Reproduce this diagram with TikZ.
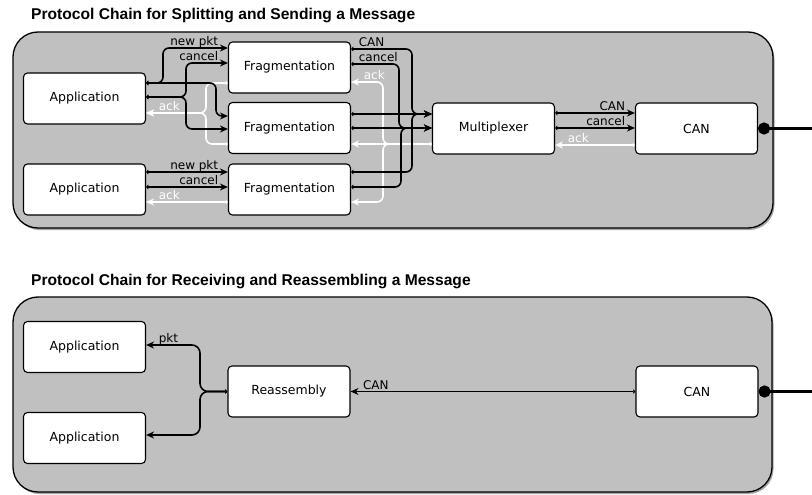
\documentclass[tikz,border=0pt]{standalone}
\usepackage{fontspec}
\setmainfont{DejaVu Sans}
\newfontfamily\headfont{Liberation Sans}
\usetikzlibrary{arrows.meta,shadows}

\begin{document}
\begin{tikzpicture}[x=1pt,y=-1pt,
  panel/.style={draw=black,line width=1.3pt,fill={rgb,255:red,192;green,192;blue,192},rounded corners=25pt,
    drop shadow={shadow xshift=1.5pt,shadow yshift=-2pt,opacity=0.7}},
  block/.style={draw=black,line width=1.1pt,fill=white,rounded corners=4pt,minimum width=122pt,minimum height=51pt,font=\fontsize{12.5}{14}\selectfont},
  head/.style={anchor=base west,inner sep=0pt,font=\headfont\bfseries\fontsize{15.6}{18}\selectfont},
  conn/.style={line width=1.6pt,rounded corners=6pt,{Triangle[length=2.2pt,width=4.5pt]}-{Stealth[length=8pt,width=7pt]}},
  ack/.style={conn,draw=white},
  lbl/.style={inner sep=0pt,font=\fontsize{12}{14}\selectfont},
  inlbl/.style={lbl,anchor=base east,xshift=-9pt,yshift=2.5pt},
  outlbl/.style={lbl,anchor=base west,xshift=7pt,yshift=2.5pt},
  acklbl/.style={lbl,anchor=base west,text=white,xshift=12pt,yshift=2.5pt},
  bus/.style={line width=3.5pt,{Circle[length=12pt]}-}]
\useasboundingbox (0,0) rectangle (812,495);

% sending chain
\node[head] (title1) at (31,20) {Protocol Chain for Splitting and Sending a Message};
\draw[panel] (13,32) rectangle (773,228);
\node[block] (app1) at (84.5,98.5) {Application};
\node[block] (app2) at (84.5,189.5) {Application};
\node[block] (frag1) at (289.5,67.5) {Fragmentation};
\node[block] (frag2) at (289.5,128) {Fragmentation};
\node[block] (frag3) at (289.5,189.5) {Fragmentation};
\node[block] (mux) at (493.5,128.5) {Multiplexer};
\node[block] (can1) at (696.5,128.5) {CAN};
\coordinate (out1) at (812,128.5);

% acks back (white)
\draw[ack] (frag1.west |- 0,83) -- (206,83) -- (206,113) -- (app1.east |- 0,113) node[acklbl] {ack};
\draw[ack] (frag2.west |- 0,144) -- (206,144) -- (206,113) -- (app1.east |- 0,113);
\draw[ack] (frag3.west |- 0,202) -- (app2.east |- 0,202) node[acklbl] {ack};
\draw[ack] (mux.west |- 0,144) -- (383,144) -- (383,82) -- (frag1.east |- 0,82) node[acklbl] {ack};
\draw[ack] (mux.west |- 0,144) -- (frag2.east |- 0,144);
\draw[ack] (mux.west |- 0,144) -- (383,144) -- (383,202) -- (frag3.east |- 0,202);
\draw[ack] (can1.west |- 0,145) -- (mux.east |- 0,145) node[acklbl] {ack};

% applications to fragmentation
\draw[conn] (app1.east |- 0,83) -- (163,83) -- (163,48) -- (frag1.west |- 0,48) node[inlbl] {new pkt};
\draw[conn] (app1.east |- 0,97) -- (186,97) -- (186,63) -- (frag1.west |- 0,63) node[inlbl] {cancel};
\draw[conn] (app1.east |- 0,83) -- (216,83) -- (216,116) -- (frag2.west |- 0,116);
\draw[conn] (app1.east |- 0,97) -- (186,97) -- (186,129) -- (frag2.west |- 0,129);
\draw[conn] (app2.east |- 0,172) -- (frag3.west |- 0,172) node[inlbl] {new pkt};
\draw[conn] (app2.east |- 0,187) -- (frag3.west |- 0,187) node[inlbl] {cancel};

% fragmentation to multiplexer
\draw[conn] (frag1.east |- 0,49) node[outlbl] {CAN} -- (412,49) -- (412,114) -- (mux.west |- 0,114);
\draw[conn] (frag1.east |- 0,64) node[outlbl] {cancel} -- (399,64) -- (399,128) -- (mux.west |- 0,128);
\draw[conn] (frag2.east |- 0,114) -- (mux.west |- 0,114);
\draw[conn] (frag2.east |- 0,128) -- (mux.west |- 0,128);
\draw[conn] (frag3.east |- 0,172) -- (412,172) -- (412,114) -- (mux.west |- 0,114);
\draw[conn] (frag3.east |- 0,187) -- (401,187) -- (401,128) -- (mux.west |- 0,128);

% multiplexer to CAN
\draw[conn] (mux.east |- 0,113) -- (can1.west |- 0,113) node[inlbl] {CAN};
\draw[conn] (mux.east |- 0,128) -- (can1.west |- 0,128) node[inlbl] {cancel};
\draw[bus] (can1.east) -- (out1);

% receiving chain
\node[head] (title2) at (31,285) {Protocol Chain for Receiving and Reassembling a Message};
\draw[panel] (13,297) rectangle (772,492);
\node[block] (rapp1) at (84.5,347) {Application};
\node[block] (rapp2) at (84.5,438) {Application};
\node[block] (reasm) at (289,391.5) {Reassembly};
\node[block] (can2) at (697,391.5) {CAN};
\coordinate (out2) at (812,391.5);

\draw[conn,rounded corners=8pt] (reasm.west) -- (200,391.5) -- (200,345) -- (rapp1.east |- 0,345) node[acklbl,text=black] {pkt};
\draw[conn,rounded corners=8pt] (reasm.west) -- (200,391.5) -- (200,435) -- (rapp2.east |- 0,435);
\draw[conn,line width=1.1pt] (can2.west) -- (reasm.east) node[acklbl,text=black] {CAN};
\draw[bus] (can2.east) -- (out2);
\end{tikzpicture}
\end{document}
